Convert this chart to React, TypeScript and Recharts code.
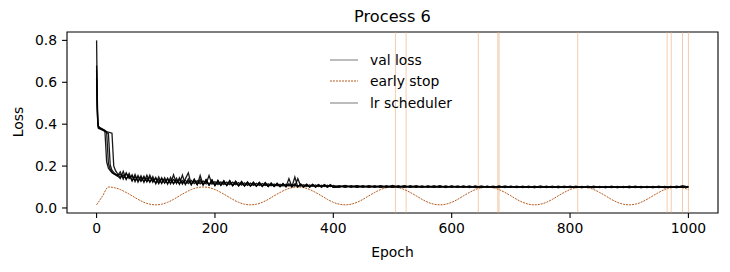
import { ComposedChart, Line, XAxis, YAxis, ReferenceLine, ReferenceArea } from "recharts";

const epochs = [
  0, 1, 2, 3, 5, 8, 11, 14, 17, 20, 23, 26, 29, 32, 35,
  40, 45, 50, 55, 60, 65, 70, 75, 80, 85,
  90, 95, 100, 105, 110, 115, 120, 125, 130, 135,
  140, 145, 150, 155, 160, 165, 170, 175, 180, 185,
  190, 195, 200, 205, 210, 215, 220, 225, 230, 235,
  240, 245, 250, 255, 260, 265, 270, 275, 280, 285,
  290, 295, 300, 305, 310, 315, 320, 325, 330, 335,
  340, 345, 350, 355, 360, 365, 370, 375, 380, 385,
  390, 395, 400,
  410, 420, 430, 440, 450, 460, 470, 480, 490, 500,
  510, 520, 530, 540, 550, 560, 570, 580, 590, 600,
  610, 620, 630, 640, 650, 660, 670, 680, 690, 700,
  710, 720, 730, 740, 750, 760, 770, 780, 790, 800,
  810, 820, 830, 840, 850, 860, 870, 880, 890, 900,
  910, 920, 930, 940, 950, 960, 970, 980, 990, 1000,
];

const lossA = [
  0.8, 0.56, 0.43, 0.39, 0.385, 0.38, 0.375, 0.37, 0.22, 0.19, 0.178, 0.168, 0.163, 0.158, 0.152,
  0.172, 0.138, 0.168, 0.14, 0.158, 0.125, 0.155, 0.127, 0.152, 0.124,
  0.157, 0.123, 0.146, 0.116, 0.145, 0.118, 0.143, 0.115, 0.158, 0.116,
  0.144, 0.114, 0.139, 0.168, 0.111, 0.138, 0.112, 0.137, 0.111, 0.136,
  0.11, 0.134, 0.108, 0.13, 0.109, 0.129, 0.108, 0.131, 0.107, 0.128,
  0.106, 0.127, 0.105, 0.123, 0.105, 0.122, 0.104, 0.121, 0.104, 0.12,
  0.103, 0.118, 0.103, 0.117, 0.102, 0.116, 0.102, 0.14, 0.102, 0.115,
  0.101, 0.114, 0.101, 0.113, 0.1, 0.113, 0.1, 0.112, 0.1, 0.112,
  0.1, 0.111, 0.099,
  0.107, 0.099, 0.107, 0.099, 0.106, 0.099, 0.107, 0.099, 0.106, 0.099,
  0.106, 0.098, 0.106, 0.099, 0.105, 0.098, 0.106, 0.098, 0.105, 0.098,
  0.105, 0.098, 0.105, 0.097, 0.105, 0.098, 0.104, 0.097, 0.105, 0.098,
  0.104, 0.097, 0.104, 0.097, 0.105, 0.097, 0.104, 0.097, 0.104, 0.097,
  0.104, 0.097, 0.104, 0.097, 0.103, 0.097, 0.104, 0.097, 0.103, 0.097,
  0.104, 0.097, 0.103, 0.097, 0.104, 0.097, 0.103, 0.097, 0.106, 0.099,
];

const lossB = [
  0.68, 0.5, 0.41, 0.385, 0.38, 0.378, 0.372, 0.368, 0.362, 0.21, 0.185, 0.172, 0.165, 0.16, 0.155,
  0.14, 0.175, 0.136, 0.165, 0.128, 0.16, 0.124, 0.154, 0.122, 0.156,
  0.123, 0.15, 0.115, 0.148, 0.117, 0.144, 0.114, 0.146, 0.115, 0.142,
  0.113, 0.157, 0.112, 0.139, 0.111, 0.137, 0.11, 0.155, 0.11, 0.134,
  0.109, 0.133, 0.107, 0.132, 0.108, 0.13, 0.107, 0.129, 0.106, 0.127,
  0.106, 0.125, 0.104, 0.124, 0.104, 0.123, 0.104, 0.122, 0.103, 0.121,
  0.103, 0.119, 0.102, 0.118, 0.102, 0.117, 0.101, 0.116, 0.101, 0.148,
  0.101, 0.114, 0.1, 0.114, 0.1, 0.113, 0.1, 0.112, 0.099, 0.112,
  0.099, 0.111, 0.099,
  0.099, 0.108, 0.099, 0.107, 0.098, 0.107, 0.099, 0.106, 0.098, 0.107,
  0.098, 0.106, 0.098, 0.106, 0.098, 0.105, 0.098, 0.106, 0.097, 0.105,
  0.098, 0.105, 0.097, 0.105, 0.097, 0.104, 0.097, 0.105, 0.097, 0.104,
  0.097, 0.104, 0.097, 0.104, 0.097, 0.104, 0.097, 0.104, 0.097, 0.104,
  0.097, 0.103, 0.097, 0.104, 0.097, 0.103, 0.097, 0.103, 0.097, 0.104,
  0.097, 0.103, 0.097, 0.103, 0.097, 0.103, 0.097, 0.104, 0.098, 0.103,
];

const lossC = [
  0.62, 0.47, 0.4, 0.38, 0.378, 0.374, 0.37, 0.365, 0.36, 0.355, 0.205, 0.18, 0.17, 0.162, 0.157,
  0.16, 0.145, 0.162, 0.146, 0.15, 0.132, 0.147, 0.13, 0.144, 0.128,
  0.146, 0.127, 0.14, 0.121, 0.138, 0.12, 0.137, 0.119, 0.136, 0.12,
  0.135, 0.118, 0.132, 0.117, 0.131, 0.116, 0.13, 0.115, 0.129, 0.115,
  0.155, 0.114, 0.126, 0.112, 0.125, 0.112, 0.124, 0.111, 0.123, 0.111,
  0.121, 0.109, 0.12, 0.108, 0.119, 0.108, 0.118, 0.107, 0.117, 0.107,
  0.115, 0.106, 0.114, 0.106, 0.113, 0.105, 0.113, 0.105, 0.112, 0.104,
  0.14, 0.104, 0.111, 0.103, 0.11, 0.103, 0.11, 0.102, 0.109, 0.102,
  0.109, 0.102, 0.108,
  0.101, 0.106, 0.1, 0.106, 0.1, 0.105, 0.1, 0.105, 0.1, 0.105,
  0.099, 0.105, 0.099, 0.104, 0.099, 0.104, 0.099, 0.104, 0.099, 0.104,
  0.099, 0.103, 0.099, 0.103, 0.098, 0.103, 0.098, 0.103, 0.098, 0.103,
  0.098, 0.102, 0.098, 0.102, 0.098, 0.102, 0.098, 0.102, 0.098, 0.102,
  0.098, 0.102, 0.098, 0.102, 0.098, 0.102, 0.098, 0.101, 0.098, 0.102,
  0.098, 0.101, 0.098, 0.101, 0.098, 0.101, 0.098, 0.101, 0.098, 0.101,
];

const lossD = [
  0.66, 0.49, 0.41, 0.39, 0.383, 0.377, 0.373, 0.369, 0.365, 0.362, 0.36, 0.357, 0.2, 0.178, 0.165,
  0.145, 0.158, 0.14, 0.155, 0.132, 0.15, 0.129, 0.146, 0.127, 0.143,
  0.125, 0.14, 0.12, 0.136, 0.119, 0.135, 0.118, 0.134, 0.117, 0.132,
  0.116, 0.131, 0.115, 0.129, 0.114, 0.128, 0.113, 0.127, 0.112, 0.126,
  0.112, 0.124, 0.11, 0.122, 0.11, 0.121, 0.109, 0.12, 0.108, 0.119,
  0.108, 0.117, 0.107, 0.116, 0.106, 0.115, 0.106, 0.115, 0.105, 0.114,
  0.105, 0.112, 0.104, 0.112, 0.103, 0.111, 0.103, 0.111, 0.103, 0.11,
  0.102, 0.109, 0.102, 0.109, 0.101, 0.108, 0.101, 0.108, 0.101, 0.107,
  0.1, 0.107, 0.1,
  0.104, 0.1, 0.104, 0.099, 0.104, 0.099, 0.103, 0.099, 0.103, 0.099,
  0.103, 0.099, 0.103, 0.098, 0.103, 0.098, 0.102, 0.098, 0.103, 0.098,
  0.102, 0.098, 0.102, 0.098, 0.102, 0.098, 0.102, 0.098, 0.102, 0.098,
  0.102, 0.098, 0.101, 0.097, 0.101, 0.098, 0.101, 0.097, 0.101, 0.098,
  0.101, 0.097, 0.101, 0.097, 0.101, 0.097, 0.101, 0.097, 0.101, 0.097,
  0.101, 0.097, 0.101, 0.097, 0.101, 0.097, 0.101, 0.097, 0.102, 0.098,
];

const esEpochs = [
  0, 10, 20, 30, 40, 50, 60, 70, 80, 90, 100,
  110, 120, 130, 140, 150, 160, 170, 180, 190, 200,
  210, 220, 230, 240, 250, 260, 270, 280, 290, 300,
  310, 320, 330, 340, 350, 360, 370, 380, 390, 400,
  410, 420, 430, 440, 450, 460, 470, 480, 490, 500,
  510, 520, 530, 540, 550, 560, 570, 580, 590, 600,
  610, 620, 630, 640, 650, 660, 670, 680, 690, 700,
  710, 720, 730, 740, 750, 760, 770, 780, 790, 800,
  810, 820, 830, 840, 850, 860, 870, 880, 890, 900,
  910, 920, 930, 940, 950, 960, 970, 980, 990, 1000,
];

const earlyStop = [
  0.015, 0.057, 0.1, 0.097, 0.088, 0.074, 0.058, 0.041, 0.027, 0.018, 0.015,
  0.018, 0.027, 0.041, 0.058, 0.074, 0.088, 0.097, 0.1, 0.097, 0.088,
  0.074, 0.058, 0.041, 0.027, 0.018, 0.015, 0.018, 0.027, 0.041, 0.058,
  0.074, 0.088, 0.097, 0.1, 0.097, 0.088, 0.074, 0.058, 0.041, 0.027,
  0.018, 0.015, 0.018, 0.027, 0.041, 0.058, 0.074, 0.088, 0.097, 0.1,
  0.097, 0.088, 0.074, 0.058, 0.041, 0.027, 0.018, 0.015, 0.018, 0.027,
  0.041, 0.058, 0.074, 0.088, 0.097, 0.1, 0.097, 0.088, 0.074, 0.058,
  0.041, 0.027, 0.018, 0.015, 0.018, 0.027, 0.041, 0.058, 0.074, 0.088,
  0.097, 0.1, 0.097, 0.088, 0.074, 0.058, 0.041, 0.027, 0.018, 0.015,
  0.018, 0.027, 0.041, 0.058, 0.074, 0.088, 0.097, 0.1, 0.097, 0.088,
];

const lrEpochs = [505, 523, 645, 678, 680, 813, 964, 971, 990, 1000];

const xTicks = [0, 200, 400, 600, 800, 1000];
const yTicks = [0, 0.2, 0.4, 0.6, 0.8];

const lossRuns = [lossA, lossB, lossC, lossD];
const lossData = lossRuns.map(run => epochs.map((epoch, i) => ({ epoch, loss: run[i] })));
const esData = esEpochs.map((epoch, i) => ({ epoch, es: earlyStop[i] }));

const FONT = "'DejaVu Sans', sans-serif";
const ES_COLOR = "#b85a1c";
const LR_COLOR = "#eaa46c";

function LegendRow({ label, kind }: { label: string; kind: "loss" | "es" | "lr" }) {
  return (
    <div style={{ display: "flex", alignItems: "center", height: 21.5 }}>
      <svg width={40} height={4}>
        <line
          x1={0} y1={2} x2={28} y2={2}
          stroke={kind === "es" ? ES_COLOR : "#7a7a7a"}
          strokeWidth={1}
          strokeDasharray={kind === "es" ? "2 1" : undefined}
        />
      </svg>
      <span>{label}</span>
    </div>
  );
}

export default function App() {
  return (
    <div style={{ position: "absolute", left: 0, top: 0, width: 730, height: 272, background: "#fff", fontFamily: FONT }}>
      <ComposedChart width={730} height={272} margin={{ top: 32, right: 12, left: 0, bottom: 0 }}>
        <XAxis
          type="number"
          dataKey="epoch"
          domain={[-50, 1050]}
          ticks={xTicks}
          allowDataOverflow
          height={59}
          axisLine={false}
          tickSize={5}
          tickMargin={5}
          tickLine={{ stroke: "#000", strokeWidth: 1.1 }}
          tick={{ fill: "#000", fontSize: 13.9, fontFamily: FONT }}
        />
        <YAxis
          type="number"
          domain={[-0.024, 0.84]}
          ticks={yTicks}
          allowDataOverflow
          width={67}
          axisLine={false}
          tickSize={5}
          tickMargin={5}
          tickLine={{ stroke: "#000", strokeWidth: 1.1 }}
          tickFormatter={(v: number) => v.toFixed(1)}
          tick={{ fill: "#000", fontSize: 13.9, fontFamily: FONT }}
        />
        {lrEpochs.map((x, i) => (
          <ReferenceLine key={`lr-${i}`} x={x} stroke={LR_COLOR} strokeOpacity={0.55} strokeWidth={1} />
        ))}
        <Line
          data={esData}
          dataKey="es"
          type="monotone"
          stroke={ES_COLOR}
          strokeWidth={1}
          strokeDasharray="2 1"
          dot={false}
          activeDot={false}
          isAnimationActive={false}
        />
        {lossData.map((d, i) => (
          <Line
            key={`run-${i}`}
            data={d}
            dataKey="loss"
            type="linear"
            stroke="#000"
            strokeOpacity={0.9}
            strokeWidth={1.3}
            dot={false}
            activeDot={false}
            isAnimationActive={false}
          />
        ))}
        <ReferenceArea x1={-50} x2={1050} y1={-0.024} y2={0.84} fill="none" stroke="#000" strokeWidth={1.1} />
      </ComposedChart>

      <div style={{ position: "absolute", left: 0, width: 785, top: 7, textAlign: "center", fontSize: 16.2 }}>
        Process 6
      </div>
      <div style={{ position: "absolute", left: 0, width: 785, top: 244, textAlign: "center", fontSize: 13.9 }}>
        Epoch
      </div>
      <div
        style={{
          position: "absolute",
          left: 18,
          top: 122,
          fontSize: 13.9,
          transform: "translate(-50%, -50%) rotate(-90deg)",
          whiteSpace: "nowrap",
        }}
      >
        Loss
      </div>
      <div style={{ position: "absolute", left: 330, top: 49, fontSize: 13.9 }}>
        <LegendRow label="val loss" kind="loss" />
        <LegendRow label="early stop" kind="es" />
        <LegendRow label="lr scheduler" kind="lr" />
      </div>
    </div>
  );
}
